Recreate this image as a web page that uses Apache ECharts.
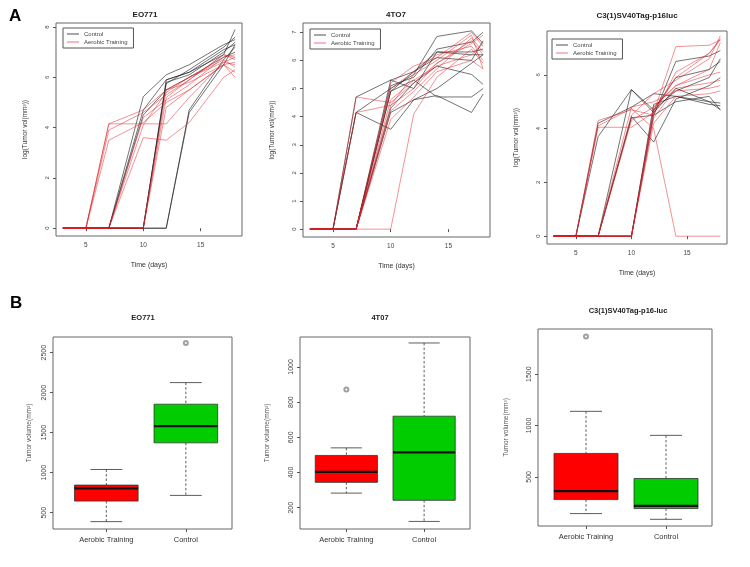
<!DOCTYPE html>
<html><head><meta charset="utf-8">
<script src="https://cdn.jsdelivr.net/npm/echarts@6/dist/echarts.min.js"></script>
<style>html,body{margin:0;padding:0;background:#fff}#c{width:750px;height:567px}</style>
</head><body><div id="c"></div>
<script>
// ---- data ----
const days = [3, 5, 7, 10, 12, 14, 17, 18];
const seriesNames = ['Control', 'Aerobic Training'];

const eoControl = [
  [0,0,0,5.23,6.1,6.5,7.3,7.5],
  [0,0,0,4.7,5.9,6.2,7.1,7.3],
  [0,0,0,0,5.9,6.2,6.9,7.9],
  [0,0,0,0,5.8,6.1,7.0,7.4],
  [0,0,0,0,5.75,6.3,7.2,7.6],
  [0,0,0,0,0,4.7,6.7,7.2],
  [0,0,0,0,0,4.6,6.5,7.3],
  [0,0,0,4.5,5.5,6.0,6.8,7.0]
];
const eoTraining = [
  [0,0,4.15,4.7,5.5,5.8,6.5,6.6],
  [0,0,4.15,4.15,4.15,5.2,6.6,6.8],
  [0,0,3.9,4.6,5.3,5.9,6.9,6.7],
  [0,0,3.5,4.2,5.0,5.5,6.5,6.2],
  [0,0,0,4.1,5.4,6.0,6.6,6.5],
  [0,0,0,3.6,3.5,4.2,6.0,6.3],
  [0,0,0,0,5.2,5.9,6.9,6.8],
  [0,0,0,0,4.8,5.5,6.5,6.0],
  [0,0,0,0,5.5,6.0,6.7,6.4],
  [0,0,0,4.4,5.1,5.7,6.8,6.9]
];
const t4Control = [
  [0,0,4.7,5.3,5.6,6.3,6.3,6.4],
  [0,0,4.15,5.0,5.5,6.85,7.05,6.6],
  [0,0,4.15,3.55,4.6,5.0,5.9,6.2],
  [0,0,0,5.3,5.0,6.3,6.2,6.2],
  [0,0,0,4.9,5.3,4.7,4.7,5.0],
  [0,0,0,4.15,4.6,4.75,4.15,4.8],
  [0,0,0,4.3,5.2,5.8,5.5,5.15],
  [0,0,0,5.1,5.4,6.4,6.65,7.0],
  [0,0,0,4.9,5.6,6.1,6.0,6.7]
];
const t4Training = [
  [0,0,4.7,4.5,5.2,5.9,6.7,6.2],
  [0,0,0,4.4,5.5,6.0,6.9,5.7],
  [0,0,0,5.0,5.6,6.2,6.5,6.0],
  [0,0,0,0,4.1,5.4,6.4,5.9],
  [0,0,0,4.6,5.3,5.8,6.2,6.6],
  [0,0,0,4.2,4.9,5.7,6.8,6.3],
  [0,0,0,5.2,5.8,6.1,7.0,6.5],
  [0,0,0,3.9,4.7,5.6,6.0,5.7],
  [0,0,4.15,4.4,5.0,5.9,6.6,6.9]
];
const c3Control = [
  [0,0,3.7,5.45,4.6,5.5,5.0,4.7],
  [0,0,4.2,4.8,5.3,5.2,4.9,4.85],
  [0,0,0,4.4,4.5,6.5,6.7,6.9],
  [0,0,0,5.45,4.7,5.9,6.2,6.5],
  [0,0,0,0,4.5,5.0,5.2,4.7],
  [0,0,0,0,4.7,5.4,5.9,6.6],
  [0,0,0,4.45,3.5,5.1,5.6,5.9],
  [0,0,0,0,4.9,5.2,5.0,4.95]
];
const c3Training = [
  [0,0,4.3,4.7,4.5,6.1,6.8,7.3],
  [0,0,4.05,4.05,4.6,7.05,7.1,7.3],
  [0,0,4.1,4.75,4.0,0,0,0],
  [0,0,0,4.5,5.3,5.8,6.6,7.45],
  [0,0,0,4.3,4.8,5.6,6.0,6.1],
  [0,0,0,0,4.6,5.9,6.8,7.35],
  [0,0,0,0,4.4,5.5,5.7,5.8],
  [0,0,0,0,4.8,5.6,6.2,7.2],
  [0,0,0,0,4.2,5.2,5.3,5.4],
  [0,0,0,4.8,5.0,5.4,5.5,5.6]
];
const lineTitles = ['EO771', '4TO7', 'C3(1)SV40Tag-p16luc'];
const xTicks = [5, 10, 15];
const eoYTicks = [0, 2, 4, 6, 8];
const t4YTicks = [0, 1, 2, 3, 4, 5, 6, 7];
const c3YTicks = [0, 2, 4, 6];

const boxCats = ['Aerobic Training', 'Control'];
// [lower whisker, Q1, median, Q3, upper whisker]
const eoBox = [[388, 645, 804, 845, 1040], [716, 1373, 1581, 1856, 2126]];
const eoOutliers = [[2, 2620]];
const t4Box = [[283, 344, 404, 497, 540], [122, 242, 514, 720, 1136]];
const t4Outliers = [[1, 871]];
const c3Box = [[142, 278, 360, 728, 1138], [86, 191, 217, 484, 904]];
const c3Outliers = [[1, 1868]];
const boxTitles = ['EO771', '4T07', 'C3(1)SV40Tag-p16-luc'];
const eoBoxTicks = [500, 1000, 1500, 2000, 2500];
const t4BoxTicks = [200, 400, 600, 800, 1000];
const c3BoxTicks = [500, 1000, 1500];

// ---- styles / layout ----
const FONT = 'Liberation Sans, Arial, sans-serif';
const BLACK = 'rgba(30,30,30,0.78)';
const RED = 'rgba(228,30,38,0.62)';
const BOXCOL = ['#ff0000', '#00cc00'];
const plain = v => String(v);

const lineLayout = [
  {left: 56, top: 23, width: 186, height: 213, ymin: -0.31, ymax: 8.16, yt: eoYTicks, legend: {left: 63, top: 28}, title: {x: 145, y: 11}},
  {left: 303, top: 23, width: 187, height: 214, ymin: -0.28, ymax: 7.33, yt: t4YTicks, legend: {left: 310, top: 29}, title: {x: 396, y: 11}},
  {left: 547, top: 31, width: 180, height: 213, ymin: -0.29, ymax: 7.63, yt: c3YTicks, legend: {left: 552, top: 39}, title: {x: 637, y: 12}}
];
const boxLayout = [
  {left: 53, top: 337, width: 179, height: 192, xmin: 0.33, xmax: 2.58, ymin: 296, ymax: 2696, yt: eoBoxTicks, nameGap: 20, title: {x: 143, y: 314}},
  {left: 300, top: 337, width: 170, height: 192, xmin: 0.404, xmax: 2.59, ymin: 79, ymax: 1170, yt: t4BoxTicks, nameGap: 29, title: {x: 380, y: 314}},
  {left: 538, top: 329, width: 174, height: 197, xmin: 0.4, xmax: 2.575, ymin: 21, ymax: 1940, yt: c3BoxTicks, nameGap: 28, title: {x: 628, y: 307}}
];
const lineSets = [[eoControl, eoTraining], [t4Control, t4Training], [c3Control, c3Training]];
const boxSets = [[eoBox, eoOutliers], [t4Box, t4Outliers], [c3Box, c3Outliers]];

const grid = [], xAxis = [], yAxis = [], series = [], title = [], legend = [];
const axisLblStyle = {fontSize: 6.5, color: '#444', fontFamily: FONT};

lineLayout.forEach((L, i) => {
  grid.push({left: L.left, top: L.top, width: L.width, height: L.height, show: true, borderColor: '#666', borderWidth: 1});
  xAxis.push({type: 'value', gridIndex: i, min: 2.4, max: 18.6,
    name: 'Time (days)', nameLocation: 'middle', nameGap: 26, nameTextStyle: {fontSize: 7, color: '#333', fontFamily: FONT},
    axisLine: {show: false}, splitLine: {show: false},
    axisTick: {customValues: xTicks, length: 3, lineStyle: {color: '#555'}},
    axisLabel: Object.assign({customValues: xTicks, margin: 6, formatter: plain}, axisLblStyle)});
  yAxis.push({type: 'value', gridIndex: i, min: L.ymin, max: L.ymax,
    name: 'log(Tumor vol(mm³))', nameLocation: 'middle', nameGap: 27, nameTextStyle: {fontSize: 6.5, color: '#333', fontFamily: FONT},
    axisLine: {show: false}, splitLine: {show: false},
    axisTick: {customValues: L.yt, length: 3, lineStyle: {color: '#555'}},
    axisLabel: Object.assign({customValues: L.yt, rotate: 90, margin: 6, formatter: plain}, axisLblStyle, {fontSize: 6})});
  title.push({text: lineTitles[i], left: L.title.x, top: L.title.y, textAlign: 'center', padding: 0,
    textStyle: {fontSize: 8, fontWeight: 'bold', color: '#222', fontFamily: FONT}});
  legend.push({data: seriesNames, left: L.legend.left, top: L.legend.top, orient: 'vertical',
    borderColor: '#555', borderWidth: 1, padding: [3, 6, 3, 4], itemGap: 2, itemWidth: 12, itemHeight: 1, icon: 'rect',
    textStyle: {fontSize: 6, color: '#444', fontFamily: FONT}});
  const [ctrl, trn] = lineSets[i];
  ctrl.forEach(v => series.push({type: 'line', name: seriesNames[0], xAxisIndex: i, yAxisIndex: i, symbol: 'none', silent: true,
    color: BLACK, lineStyle: {width: 0.8, color: BLACK}, data: days.map((d, k) => [d, v[k]])}));
  trn.forEach(v => series.push({type: 'line', name: seriesNames[1], xAxisIndex: i, yAxisIndex: i, symbol: 'none', silent: true,
    color: RED, lineStyle: {width: 0.8, color: RED}, data: days.map((d, k) => [d, v[k]])}));
});

function renderBox(params, api) {
  const x = api.value(0);
  const lo = api.value(1), q1 = api.value(2), med = api.value(3), q3 = api.value(4), hi = api.value(5);
  const p = (xx, yy) => api.coord([xx, yy]);
  const cx = p(x, 0)[0];
  const xl = p(x - 0.4, 0)[0], xr = p(x + 0.4, 0)[0];
  const cl = p(x - 0.2, 0)[0], cr = p(x + 0.2, 0)[0];
  const yLo = p(x, lo)[1], yQ1 = p(x, q1)[1], yMed = p(x, med)[1], yQ3 = p(x, q3)[1], yHi = p(x, hi)[1];
  const dash = {stroke: '#333', lineWidth: 0.8, lineDash: [2.5, 2]};
  const solid = {stroke: '#333', lineWidth: 0.8};
  return {type: 'group', children: [
    {type: 'line', shape: {x1: cx, y1: yHi, x2: cx, y2: yQ3}, style: dash},
    {type: 'line', shape: {x1: cx, y1: yQ1, x2: cx, y2: yLo}, style: dash},
    {type: 'line', shape: {x1: cl, y1: yHi, x2: cr, y2: yHi}, style: solid},
    {type: 'line', shape: {x1: cl, y1: yLo, x2: cr, y2: yLo}, style: solid},
    {type: 'rect', shape: {x: xl, y: yQ3, width: xr - xl, height: yQ1 - yQ3}, style: {fill: BOXCOL[params.dataIndex], stroke: '#333', lineWidth: 0.8}},
    {type: 'line', shape: {x1: xl, y1: yMed, x2: xr, y2: yMed}, style: {stroke: '#111', lineWidth: 2.2}}
  ]};
}

boxLayout.forEach((B, j) => {
  const i = j + 3;
  grid.push({left: B.left, top: B.top, width: B.width, height: B.height, show: true, borderColor: '#666', borderWidth: 1});
  xAxis.push({type: 'value', gridIndex: i, min: B.xmin, max: B.xmax,
    axisLine: {show: false}, splitLine: {show: false},
    axisTick: {customValues: [1, 2], length: 3, lineStyle: {color: '#555'}},
    axisLabel: {customValues: [1, 2], margin: 7, fontSize: 7.5, color: '#333', fontFamily: FONT, formatter: v => boxCats[Math.round(v) - 1]}});
  yAxis.push({type: 'value', gridIndex: i, min: B.ymin, max: B.ymax,
    name: 'Tumor volume(mm³)', nameLocation: 'middle', nameGap: B.nameGap, nameTextStyle: {fontSize: 6.5, color: '#555', fontFamily: FONT},
    axisLine: {show: false}, splitLine: {show: false},
    axisTick: {customValues: B.yt, length: 3, lineStyle: {color: '#555'}},
    axisLabel: {customValues: B.yt, rotate: 90, margin: 5, fontSize: 7, color: '#444', fontFamily: FONT, formatter: plain}});
  title.push({text: boxTitles[j], left: B.title.x, top: B.title.y, textAlign: 'center', padding: 0,
    textStyle: {fontSize: 7.5, fontWeight: 'bold', color: '#222', fontFamily: FONT}});
  const [bx, outs] = boxSets[j];
  series.push({type: 'custom', xAxisIndex: i, yAxisIndex: i, silent: true, renderItem: renderBox,
    data: bx.map((v, k) => [k + 1].concat(v))});
  series.push({type: 'scatter', xAxisIndex: i, yAxisIndex: i, silent: true, symbol: 'emptyCircle', symbolSize: 4,
    itemStyle: {color: '#888', borderColor: '#888', borderWidth: 0.8}, data: outs});
});

title.push({text: 'A', left: 9, top: 8, padding: 0, textStyle: {fontSize: 17, fontWeight: 'bold', color: '#000', fontFamily: FONT}});
title.push({text: 'B', left: 10, top: 295, padding: 0, textStyle: {fontSize: 17, fontWeight: 'bold', color: '#000', fontFamily: FONT}});

const chart = echarts.init(document.getElementById('c'), null, {renderer: 'canvas'});
chart.setOption({backgroundColor: '#fff', animation: false, title, legend, grid, xAxis, yAxis, series});
</script></body></html>
